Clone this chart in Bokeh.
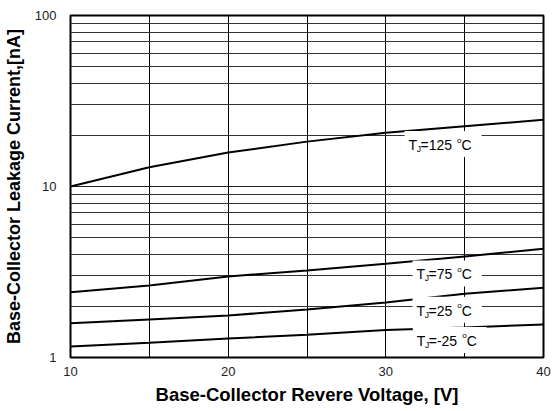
from bokeh.plotting import figure
from bokeh.models import Range1d, FixedTicker, PrintfTickFormatter, ColumnDataSource
from bokeh.core.properties import value
from bokeh.embed import file_html
from bokeh.resources import INLINE

# ---- data ----
voltage = [10, 15, 20, 25, 30, 35, 40]
i_125 = [10.0, 12.97, 15.8, 18.3, 20.6, 22.5, 24.6]
i_75 = [2.41, 2.64, 2.98, 3.23, 3.53, 3.90, 4.32]
i_25 = [1.585, 1.67, 1.76, 1.91, 2.10, 2.36, 2.56]
i_m25 = [1.16, 1.22, 1.29, 1.36, 1.45, 1.50, 1.56]

x_ticks = [10, 20, 30, 40]
x_minor = [15, 25, 35]
y_ticks = [1, 10, 100]
y_minor = [2, 3, 4, 5, 6, 7, 8, 9, 20, 30, 40, 50, 60, 70, 80, 90]

temps = ["125", "75", "25", "-25"]
label_x = [33.63, 33.89, 33.89, 34.05]
label_y = [17.7, 3.10, 1.90, 1.266]

FONT = "Liberation Sans"

p = figure(width=553, height=411, output_backend="svg", toolbar_location=None,
           y_axis_type="log", x_range=Range1d(10, 40), y_range=Range1d(1, 100),
           min_border_left=70, min_border_right=10, min_border_top=15, min_border_bottom=54)
p.background_fill_color = "white"
p.border_fill_color = "white"
p.outline_line_color = "black"
p.outline_line_width = 2

p.xaxis.ticker = FixedTicker(ticks=x_ticks, minor_ticks=x_minor)
p.yaxis.ticker = FixedTicker(ticks=y_ticks, minor_ticks=y_minor)
p.yaxis.formatter = PrintfTickFormatter(format="%d")

for ax in (p.xaxis, p.yaxis):
    ax.axis_line_color = None
    ax.major_tick_line_color = None
    ax.minor_tick_line_color = None
    ax.major_label_text_font = FONT
    ax.major_label_text_font_size = "13px"
    ax.major_label_text_color = "#222222"
    ax.axis_label_text_font = FONT
    ax.axis_label_text_font_style = "bold"
    ax.axis_label_text_color = "black"

p.xaxis.axis_label = "Base-Collector Revere Voltage, [V]"
p.yaxis.axis_label = "Base-Collector Leakage Current,[nA]"
p.xaxis.axis_label_text_font_size = "18.5px"
p.yaxis.axis_label_text_font_size = "18px"
p.xaxis.major_label_standoff = 3
p.xaxis.axis_label_standoff = 5
p.yaxis.major_label_standoff = 8
p.yaxis.axis_label_standoff = 8

p.xgrid.grid_line_color = "black"
p.xgrid.minor_grid_line_color = "black"
p.ygrid.grid_line_color = "#222222"
p.ygrid.minor_grid_line_color = "#333333"
for g in (p.xgrid, p.ygrid):
    g.grid_line_width = 1
    g.grid_line_alpha = 1
    g.minor_grid_line_width = 1

for series in (i_125, i_75, i_25, i_m25):
    p.line(voltage, series, line_color="black", line_width=2)

# ---- labels T_J = ... °C ----
def tw(s, size):
    w = {"=": 0.584, "-": 0.333, " ": 0.278}
    return sum(w.get(c, 0.556) for c in s) * size

rows = dict(x=[], y=[], box_w=[], t_off=[], j_off=[], v_off=[], o_off=[], c_off=[], val=[])
for t, lx, ly in zip(temps, label_x, label_y):
    v = "=" + t
    vw = tw(v, 14)
    total = 12 + vw + 5 + 4.5 + 10
    bw = total + 4 + 10
    start = -bw / 2 + 4
    rows["x"].append(lx)
    rows["y"].append(ly)
    rows["box_w"].append(bw)
    rows["t_off"].append(start)
    rows["j_off"].append(start + 8.2)
    rows["v_off"].append(start + 12)
    rows["o_off"].append(start + 12 + vw + 5)
    rows["c_off"].append(start + 12 + vw + 9.5)
    rows["val"].append(v)
src = ColumnDataSource(rows)

p.rect(x="x", y="y", width="box_w", height=26, width_units="screen", height_units="screen",
       source=src, fill_color="white", line_color=None)
common = dict(source=src, text_font=value(FONT), text_color="black", text_baseline="alphabetic",
              text_align="left")
BASE = 1
p.text(x="x", y="y", text=value("T"), x_offset="t_off", y_offset=BASE, text_font_size="14px", **common)
p.text(x="x", y="y", text=value("J"), x_offset="j_off", y_offset=BASE + 4, text_font_size="8.5px", **common)
p.text(x="x", y="y", text="val", x_offset="v_off", y_offset=BASE, text_font_size="14px", **common)
p.text(x="x", y="y", text=value("o"), x_offset="o_off", y_offset=BASE - 5, text_font_size="8px", **common)
p.text(x="x", y="y", text=value("C"), x_offset="c_off", y_offset=BASE, text_font_size="14px", **common)

open("out.html", "w").write(file_html(p, INLINE))
